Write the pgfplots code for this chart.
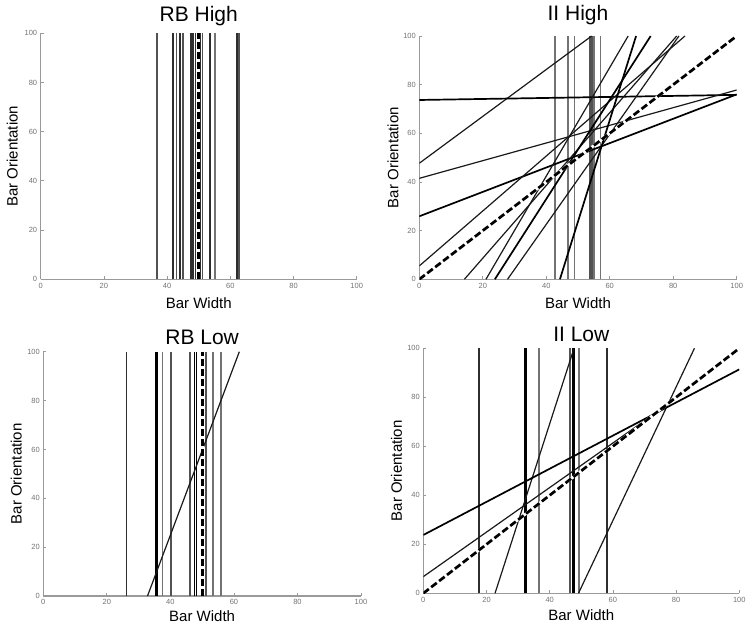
\documentclass[border=0pt]{standalone}
\usepackage{pgfplots}
\pgfplotsset{compat=1.18}
\usepackage{fontspec}
\setmainfont{Liberation Sans}
\definecolor{axgray}{HTML}{9A9A9A}
\pgfplotsset{
  panel/.style={
    scale only axis,
    anchor=south west,
    xmin=0, xmax=100, ymin=0, ymax=100,
    xtick={0,20,...,100}, ytick={0,20,...,100},
    axis x line*=bottom, axis y line*=left,
    axis line style={axgray, line width=1.3pt},
    tick style={axgray, line width=0.8pt},
    major tick length=3pt, tick align=inside,
    /pgf/number format/assume math mode=true,
    tick label style={font=\fontsize{7.5}{8}\selectfont, text=black!55},
    xlabel={Bar Width}, ylabel={Bar Orientation},
    label style={font=\fontsize{15}{16}\selectfont},
    xlabel style={at={(axis description cs:0.5,-0.118)}, anchor=base},
    ylabel style={at={(axis description cs:-0.073,0.5)}, anchor=base, rotate=0},
    title style={font=\fontsize{21}{22}\selectfont, at={(axis description cs:0.5,1.022)}, anchor=base},
  },
  vl/.style={black!68, line width=1.8pt},
  vd/.style={black!82, line width=1.9pt},
  vg/.style={black!55, line width=1.7pt},
  sl/.style={black!90, line width=1.2pt},
  sk/.style={black, line width=1.7pt},
  dsh/.style={black, line width=2.7pt, dash pattern=on 7pt off 3pt},
  dwh/.style={white, line width=2.7pt},
}
\begin{document}
\begin{tikzpicture}
\useasboundingbox (0,0) rectangle (750pt,627pt);
% ---------------- RB High
\begin{axis}[panel, at={(40.7pt,347.7pt)}, width=316pt, height=246pt, title={RB High}]
\addplot[vl] coordinates {(36.7,0)(36.7,100)};
\addplot[vd] coordinates {(41.8,0)(41.8,100)};
\addplot[vl] coordinates {(43.0,0)(43.0,100)};
\addplot[vd] coordinates {(44.1,0)(44.1,100)};
\addplot[vl] coordinates {(45.1,0)(45.1,100)};
\addplot[vd] coordinates {(47.6,0)(47.6,100)};
\addplot[vd] coordinates {(48.2,0)(48.2,100)};
\addplot[vd] coordinates {(49.0,0)(49.0,100)};
\addplot[vd] coordinates {(50.5,0)(50.5,100)};
\addplot[vl] coordinates {(51.2,0)(51.2,100)};
\addplot[vd] coordinates {(53.6,0)(53.6,100)};
\addplot[vg] coordinates {(55.2,0)(55.2,100)};
\addplot[vd] coordinates {(62.0,0)(62.0,100)};
\addplot[vl] coordinates {(62.8,0)(62.8,100)};
\addplot[dwh] coordinates {(50,0)(50,100)};
\addplot[dsh] coordinates {(50,0)(50,100)};
\end{axis}
% ---------------- II High
\begin{axis}[panel, at={(419.3pt,347.7pt)}, width=317.4pt, height=243.3pt, title={II High},
  title style={at={(axis description cs:0.5,1.037)}}, ylabel style={at={(axis description cs:-0.066,0.5)}}]
\addplot[vg] coordinates {(42.8,0)(42.8,100)};
\addplot[vg] coordinates {(46.9,0)(46.9,100)};
\addplot[vg] coordinates {(48.9,0)(48.9,100)};
\addplot[vl] coordinates {(53.8,0)(53.8,100)};
\addplot[vl] coordinates {(54.5,0)(54.5,100)};
\addplot[vg] coordinates {(55.1,0)(55.1,100)};
\addplot[vg] coordinates {(57.1,0)(57.1,100)};
\addplot[sl] coordinates {(0,47.7)(54.3,100)};
\addplot[sk] coordinates {(0,73.7)(100,75.8)};
\addplot[sl] coordinates {(0,41.5)(100,77.8)};
\addplot[sk] coordinates {(0,25.9)(100,76.0)};
\addplot[sl] coordinates {(0,5.5)(83.7,100)};
\addplot[sl] coordinates {(14.2,0)(81.1,100)};
\addplot[sl] coordinates {(21.0,0)(65.8,100)};
\addplot[sk] coordinates {(23.8,0)(72.9,100)};
\addplot[sl] coordinates {(27.8,0)(81.8,100)};
\addplot[sk] coordinates {(44.3,0)(68.3,100)};
\addplot[dwh] coordinates {(0,0)(100,100)};
\addplot[dsh] coordinates {(0,0)(100,100)};
\end{axis}
% ---------------- RB Low
\begin{axis}[panel, at={(43.3pt,31pt)}, width=317.7pt, height=244.3pt, title={RB Low},
  title style={at={(axis description cs:0.5,1.006)}}, xlabel style={at={(axis description cs:0.5,-0.105)}},
  ylabel style={at={(axis description cs:-0.068,0.5)}}]
\addplot[vd] coordinates {(26.2,0)(26.2,100)};
\addplot[sk] coordinates {(35.4,0)(35.4,100)};
\addplot[sk] coordinates {(35.9,0)(35.9,100)};
\addplot[vg] coordinates {(37.5,0)(37.5,100)};
\addplot[vl] coordinates {(40.3,0)(40.3,100)};
\addplot[vl] coordinates {(46.2,0)(46.2,100)};
\addplot[sk] coordinates {(47.6,0)(47.6,100)};
\addplot[sk] coordinates {(48.2,0)(48.2,100)};
\addplot[vl] coordinates {(51.1,0)(51.1,100)};
\addplot[vg] coordinates {(53.5,0)(53.5,100)};
\addplot[vg] coordinates {(55.9,0)(55.9,100)};
\addplot[sl] coordinates {(32.8,0)(61.7,100)};
\addplot[dwh] coordinates {(50,0)(50,100)};
\addplot[dsh] coordinates {(50,0)(50,100)};
\end{axis}
% ---------------- II Low
\begin{axis}[panel, at={(423.3pt,33.7pt)}, width=316pt, height=245pt, title={II Low},
  title style={at={(axis description cs:0.5,1.003)}}, xlabel style={at={(axis description cs:0.5,-0.11)}},
  ylabel style={at={(axis description cs:-0.068,0.5)}}]
\addplot[vd] coordinates {(17.7,0)(17.7,100)};
\addplot[sk] coordinates {(32.0,0)(32.0,100)};
\addplot[sk] coordinates {(32.4,0)(32.4,100)};
\addplot[vg] coordinates {(36.6,0)(36.6,100)};
\addplot[vl] coordinates {(46.4,0)(46.4,100)};
\addplot[sk] coordinates {(47.4,0)(47.4,100)};
\addplot[sk] coordinates {(47.8,0)(47.8,100)};
\addplot[vg] coordinates {(49.2,0)(49.2,100)};
\addplot[vd] coordinates {(58.0,0)(58.0,100)};
\addplot[sl] coordinates {(22.7,0)(47.7,100)};
\addplot[sl] coordinates {(49.1,0)(85.8,100)};
\addplot[sk] coordinates {(0,23.8)(100,91.4)};
\addplot[sl] coordinates {(0,6.8)(78,77.7)};
\addplot[dwh] coordinates {(0,0)(100,100)};
\addplot[dsh] coordinates {(0,0)(100,100)};
\end{axis}
\end{tikzpicture}
\end{document}
